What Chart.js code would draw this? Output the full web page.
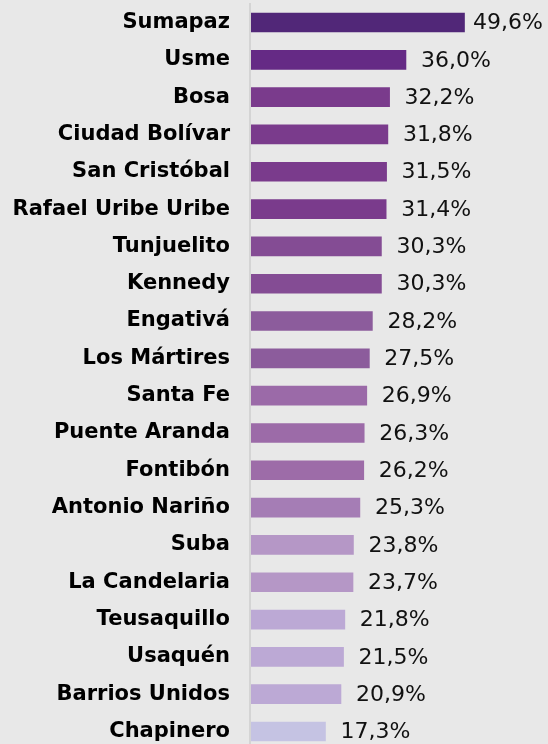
<!DOCTYPE html>
<html>
<head>
<meta charset="utf-8">
<script src="https://cdn.jsdelivr.net/npm/chart.js@4"></script>
<style>
  html, body { margin: 0; padding: 0; background: #e8e8e8; }
  #wrap { width: 548px; height: 744px; }
</style>
</head>
<body>
<div id="wrap"><canvas id="barChart"></canvas></div>
<script>
// Localidades de Bogotá, porcentaje
const localidades = [
    'Sumapaz', 'Usme', 'Bosa', 'Ciudad Bolívar', 'San Cristóbal',
    'Rafael Uribe Uribe', 'Tunjuelito', 'Kennedy', 'Engativá', 'Los Mártires',
    'Santa Fe', 'Puente Aranda', 'Fontibón', 'Antonio Nariño', 'Suba',
    'La Candelaria', 'Teusaquillo', 'Usaquén', 'Barrios Unidos', 'Chapinero'
];
const valores = [
    49.6, 36.0, 32.2, 31.8, 31.5,
    31.4, 30.3, 30.3, 28.2, 27.5,
    26.9, 26.3, 26.2, 25.3, 23.8,
    23.7, 21.8, 21.5, 20.9, 17.3
];
const colores = [
    '#512778', '#652a85', '#7a3b8c', '#7a3b8c', '#7a3b8c',
    '#7a3b8c', '#844c94', '#844c94', '#8c5c9c', '#8c5c9c',
    '#9b6aa8', '#9c6ba8', '#9d6ca8', '#a57db5', '#b597c6',
    '#b597c6', '#bca9d5', '#bca9d5', '#bca9d5', '#c5c3e3'
];

// vertical axis line over the full height, like the original
const axisLine = {
    id: 'axisLine',
    afterDatasetsDraw(chart) {
        const c = chart.ctx;
        const x = chart.chartArea.left - 1;
        c.save();
        c.strokeStyle = '#d4d4d4';
        c.lineWidth = 2;
        c.beginPath();
        c.moveTo(x, 3);
        c.lineTo(x, chart.height);
        c.stroke();
        c.restore();
    }
};

// value labels at the end of each bar
const valueLabels = {
    id: 'valueLabels',
    afterDatasetsDraw(chart) {
        const c = chart.ctx;
        const meta = chart.getDatasetMeta(0);
        c.save();
        c.font = '22px "DejaVu Sans"';
        c.fillStyle = '#111';
        c.textBaseline = 'middle';
        meta.data.forEach((bar, i) => {
            const txt = valores[i].toFixed(1).replace('.', ',') + '%';
            const w = c.measureText(txt).width;
            const x = Math.min(bar.x + 15, chart.width - 5 - w);
            c.fillText(txt, x, bar.y + 1);
        });
        c.restore();
    }
};

new Chart(document.getElementById('barChart'), {
    type: 'bar',
    data: {
        labels: localidades,
        datasets: [{
            data: valores,
            backgroundColor: colores,
            borderWidth: 0,
            barThickness: 19,
            clip: false
        }]
    },
    options: {
        indexAxis: 'y',
        responsive: true,
        maintainAspectRatio: false,
        animation: false,
        layout: { padding: { top: 22.5, bottom: 12.5, left: 0, right: 0 } },
        scales: {
            x: { display: false, min: 0, max: 69 },
            y: {
                offset: false,
                grid: { display: false },
                border: { display: false },
                afterFit: s => {
                    s.width = 251;
                    s.paddingTop = 0;
                    s.paddingBottom = 0;
                },
                ticks: {
                    autoSkip: false,
                    padding: 13,
                    color: '#000',
                    font: { family: '"DejaVu Sans"', size: 21, weight: 'bold' }
                }
            }
        },
        plugins: {
            legend: { display: false },
            tooltip: { enabled: false }
        }
    },
    plugins: [axisLine, valueLabels]
});
</script>
</body>
</html>
